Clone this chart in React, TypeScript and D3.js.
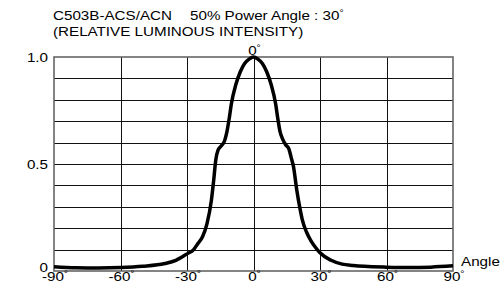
import React from "react";
import * as d3 from "d3";

// angle (deg) -> relative luminous intensity
const angles = [
  -90, -80, -70, -60, -50, -40, -35, -30, -27, -25, -23, -21, -19, -18, -17, -16, -14.5, -13, -12, -11, -10, -8, -6, -4, -2, 0,
  2, 4, 6, 8, 10, 11, 12, 13, 14.5, 16, 17, 18, 19.5, 21, 22, 24, 26, 28, 30, 35, 40, 45, 50, 60, 70, 80, 90,
];
const intensity = [
  0.02, 0.015, 0.014, 0.016, 0.022, 0.035, 0.05, 0.08, 0.1, 0.13, 0.16, 0.22, 0.33, 0.42, 0.52, 0.565, 0.585, 0.61, 0.65, 0.71, 0.78, 0.87, 0.93, 0.97, 0.99, 1.0,
  0.99, 0.97, 0.93, 0.87, 0.78, 0.71, 0.65, 0.62, 0.59, 0.57, 0.53, 0.49, 0.38, 0.29, 0.24, 0.18, 0.14, 0.11, 0.085, 0.05, 0.032, 0.026, 0.022, 0.018, 0.016, 0.018, 0.024,
];
const xTicks = [-90, -60, -30, 0, 30, 60, 90];
const yGrid = [0.1, 0.2, 0.3, 0.4, 0.5, 0.6, 0.7, 0.8, 0.9];
const yLabels = [
  { v: 1, t: "1.0" },
  { v: 0.5, t: "0.5" },
  { v: 0, t: "0" },
];
const titleLeft = "C503B-ACS/ACN";
const titleRight = "50% Power Angle : 30";
const subtitle = "(RELATIVE LUMINOUS INTENSITY)";

const W = 501;
const H = 294;
const SX = 1.17; // the original font is a bit wider than Liberation Sans

const T = ({ x, y, anchor, children }: { x: number; y: number; anchor?: string; children: React.ReactNode }) => (
  <text transform={`translate(${x},${y}) scale(${SX},1)`} textAnchor={anchor ?? "start"}>
    {children}
  </text>
);

const Deg = () => (
  <tspan fontSize={9} dy={-4}>
    °
  </tspan>
);

export default function App() {
  const x = d3.scaleLinear().domain([-90, 90]).range([54, 453]);
  const y = d3.scaleLinear().domain([0, 1]).range([271, 57]);
  const data = angles.map((a, i) => [a, intensity[i]] as [number, number]);
  const line = d3
    .line<[number, number]>()
    .x((d) => x(d[0]))
    .y((d) => y(d[1]))
    .curve(d3.curveMonotoneX);

  return (
    <svg
      width={W}
      height={H}
      style={{ position: "absolute", left: 0, top: 0, background: "#fff" }}
      fontFamily="Arial, 'Liberation Sans', sans-serif"
      fontSize={13}
    >
      <rect width={W} height={H} fill="#fff" />
      {/* titles */}
      <T x={53} y={20}>{titleLeft}</T>
      <T x={190} y={20}>
        {titleRight}
        <Deg />
      </T>
      <T x={53} y={36}>{subtitle}</T>

      {/* grid */}
      {yGrid.map((v) => (
        <line key={v} x1={x(-90)} x2={x(90)} y1={Math.round(y(v)) + 0.5} y2={Math.round(y(v)) + 0.5} stroke="#111" strokeWidth={1} />
      ))}
      {xTicks.slice(1, -1).map((a) => (
        <line key={a} x1={Math.round(x(a)) + 0.5} x2={Math.round(x(a)) + 0.5} y1={y(1)} y2={y(0)} stroke="#111" strokeWidth={1} />
      ))}
      <rect x={x(-90)} y={y(1)} width={x(90) - x(-90)} height={y(0) - y(1)} fill="none" stroke="#666" strokeWidth={1.6} />

      {/* curve */}
      <path d={line(data) ?? ""} fill="none" stroke="#000" strokeWidth={3.5} strokeLinejoin="round" />

      {/* y labels */}
      {yLabels.map((l) => (
        <T key={l.t} x={48} y={y(l.v) + (l.v === 0 ? 1 : 5)} anchor="end">
          {l.t}
        </T>
      ))}

      {/* x labels */}
      {xTicks.map((a) => (
        <T key={a} x={x(a) + 1} y={281} anchor="middle">
          {a}
          <Deg />
        </T>
      ))}
      <T x={x(0) + 1} y={55} anchor="middle">
        0<Deg />
      </T>
      <T x={461} y={266}>Angle</T>
    </svg>
  );
}
